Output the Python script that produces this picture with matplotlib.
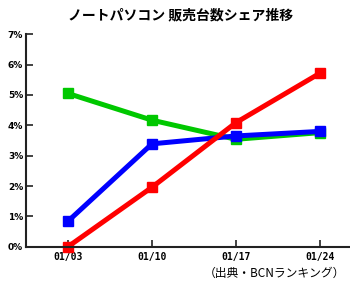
import matplotlib
matplotlib.use("Agg")
from matplotlib import pyplot as plt

plt.rcParams['font.family'] = ['Noto Sans CJK JP', 'DejaVu Sans']

# data
weeks = ["01/03", "01/10", "01/17", "01/24"]
green_share = [5.05, 4.17, 3.54, 3.76]
blue_share = [0.84, 3.39, 3.65, 3.80]
red_share = [0.0, 1.96, 4.09, 5.72]
y_ticks = [0, 1, 2, 3, 4, 5, 6, 7]

title = "ノートパソコン 販売台数シェア推移"
source = "（出典・BCNランキング）"

fig = plt.figure(figsize=(3.5, 2.91), dpi=100)
ax = fig.add_axes([26 / 350, 1 - 246.7 / 291, 1 - 26 / 350, (246.7 - 34.3) / 291])

x = list(range(len(weeks)))
for values, color in [(green_share, '#00c800'), (blue_share, '#0000ff'), (red_share, '#ff0000')]:
    ax.plot(x, values, color=color, linewidth=3.6, marker='s', markersize=7.5,
            solid_joinstyle='miter', clip_on=False)

ax.set_xlim(-0.5, 3.357)
ax.set_ylim(0, 7)
ax.set_xticks(x)
ax.set_xticklabels(weeks, fontsize=7, fontweight='bold', family='DejaVu Sans Mono')
ax.set_yticks(y_ticks)
ax.set_yticklabels([f"{v}%" for v in y_ticks], fontsize=6.5, fontweight='bold', family='DejaVu Sans')
ax.tick_params(direction='in', length=5, width=1.2, color='#222222', pad=4)
ax.tick_params(axis='y', pad=2)
for side in ['top', 'right']:
    ax.spines[side].set_visible(False)
for side in ['left', 'bottom']:
    ax.spines[side].set_linewidth(1.5)
    ax.spines[side].set_color('#222222')

fig.text(181 / 350, 1 - 15 / 291, title, ha='center', va='center', fontsize=10, fontweight='bold')
fig.text(345 / 350, 1 - 273 / 291, source, ha='right', va='center', fontsize=8.5)

fig.savefig("out.png", dpi=100)
